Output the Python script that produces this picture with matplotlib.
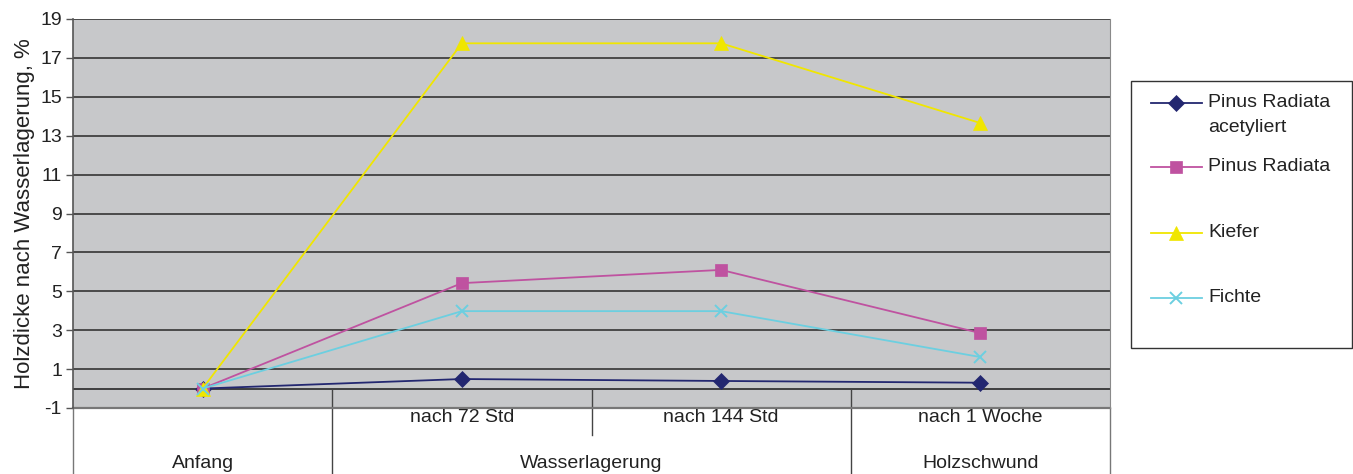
import matplotlib.pyplot as plt
from matplotlib.lines import Line2D
from matplotlib.patches import Rectangle

plt.rcParams['font.family'] = ['Liberation Sans', 'DejaVu Sans']
plt.rcParams['axes.unicode_minus'] = False

# Messzeitpunkte und Gruppen
zeitpunkte = ['', 'nach 72 Std', 'nach 144 Std', 'nach 1 Woche']
gruppen = ['Anfang', 'Wasserlagerung', 'Holzschwund']
gruppen_pos = [0, 1.5, 3]

# Holzdicke nach Wasserlagerung in %
pinus_acetyliert = [0.0, 0.49, 0.39, 0.3]
pinus_radiata = [0.0, 5.42, 6.1, 2.85]
kiefer = [0.0, 17.75, 17.75, 13.65]
fichte = [0.0, 3.98, 3.98, 1.62]

namen = ['Pinus Radiata\nacetyliert', 'Pinus Radiata', 'Kiefer', 'Fichte']
farben = ['#232770', '#bf52a0', '#f0e600', '#6ccfe0']
marker = ['D', 's', '^', 'x']
msize = [8, 8.5, 10, 9]

FS = 14
W, H = 1353, 474
fig = plt.figure(figsize=(W / 100, H / 100), dpi=100)


def fx(px):
    return px / W


def fy(py):
    return 1 - py / H


ax = fig.add_axes([fx(73), fy(408), fx(1110) - fx(73), fy(19) - fy(408)])
ax.set_facecolor('#c7c8ca')

x = list(range(len(zeitpunkte)))
reihen = [pinus_acetyliert, pinus_radiata, kiefer, fichte]
for werte, farbe, m, ms in zip(reihen, farben, marker, msize):
    ax.plot(x, werte, color=farbe, lw=1.3, marker=m, ms=ms,
            mew=1.4 if m == 'x' else 0.5, mec=farbe, mfc=farbe, zorder=3)

ax.set_xlim(-0.5, 3.5)
ax.set_ylim(-1, 19)
ax.set_yticks(range(-1, 20, 2))
ax.yaxis.grid(True, color='#4a4a4a', lw=1.4)
ax.set_axisbelow(True)
ax.tick_params(axis='y', length=5, width=1, color='#555555', labelsize=FS, pad=3,
               labelcolor='#222222')
ax.tick_params(axis='x', length=0, labelbottom=False)
for s in ['top', 'bottom']:
    ax.spines[s].set_visible(False)
ax.spines['right'].set_color('#8a8a8a')
ax.spines['left'].set_color('#555555')
ax.spines['left'].set_linewidth(1.2)
ax.axhline(0, color='#1a1a1a', lw=1.1, zorder=2)
ax.set_ylabel('Holzdicke nach Wasserlagerung, %', fontsize=FS + 2, labelpad=4,
              color='#222222')

# Kategorie-Tabelle unter der Achse
tr = ax.get_xaxis_transform()
y0 = 1 / 20
unten = -(H - 408) / (408 - 19)
for xs, yend in [(-0.5, unten), (0.5, unten), (1.5, -27 / 389), (2.5, unten), (3.5, unten)]:
    rand = xs in (-0.5, 3.5)
    ax.plot([xs, xs], [0 if rand else y0, yend], transform=tr,
            color='#777777' if rand else '#444444', lw=1, clip_on=False)
ax.plot([-0.5, 3.5], [0, 0], transform=tr, color='#777777', lw=1.6, clip_on=False)

for xi, lab in zip(x, zeitpunkte):
    ax.text(xi, -10 / 389, lab, transform=tr, ha='center', va='center',
            fontsize=FS, color='#222222')
for xi, lab in zip(gruppen_pos, gruppen):
    ax.text(xi, -55 / 389, lab, transform=tr, ha='center', va='center',
            fontsize=FS, color='#222222')

# Legende
fig.add_artist(Rectangle((fx(1131), fy(348)), fx(1352) - fx(1131), fy(81) - fy(348),
                         transform=fig.transFigure, fill=False, ec='#333333', lw=1))
zeilen = [103, 167, 233, 298]
for name, farbe, m, ms, zy in zip(namen, farben, marker, msize, zeilen):
    fig.add_artist(Line2D([fx(1151), fx(1202)], [fy(zy), fy(zy)], color=farbe, lw=1.3,
                          transform=fig.transFigure))
    fig.add_artist(Line2D([fx(1176)], [fy(zy)], marker=m, ms=ms, color=farbe,
                          mew=1.4 if m == 'x' else 0.5, transform=fig.transFigure))
    fig.text(fx(1208), fy(zy - 9), name, ha='left', va='top', fontsize=FS,
             color='#222222', linespacing=1.6)

fig.savefig('out.png', dpi=100)
